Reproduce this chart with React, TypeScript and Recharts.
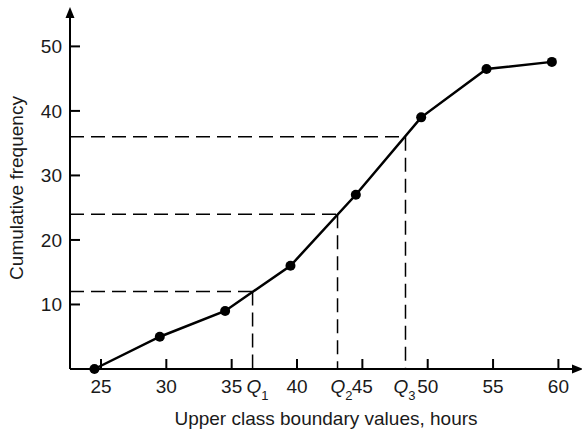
import React from 'react';
import { LineChart, Line, XAxis, YAxis, ReferenceLine, Label } from 'recharts';

const upperBoundaries = [24.5, 29.5, 34.5, 39.5, 44.5, 49.5, 54.5, 59.5];
const cumulativeFreq = [0, 5, 9, 16, 27, 39, 46.5, 47.6];
const xTickValues = [25, 30, 35, 40, 45, 50, 55, 60];
const yTickValues = [10, 20, 30, 40, 50];
const quartileNames = ['1', '2', '3'];
const quartileFreq = [12, 24, 36];
const quartileHours = [36.6, 43.1, 48.3];

const X_MIN = 22.63;
const X_MAX = 61.04;
const Y_MAX = 54.4;

const data = upperBoundaries.map((x, i) => ({ x, y: cumulativeFreq[i] }));
const allXTicks = [...xTickValues, ...quartileHours].sort((a, b) => a - b);

const FONT = '"Liberation Sans", Arial, Helvetica, sans-serif';
const INK = '#1a1a1a';

const XTick = (props: any) => {
  const { x, y, payload } = props;
  const v = payload.value;
  const qi = quartileHours.indexOf(v);
  if (qi >= 0) {
    const nudge = [-6, -7, -12][qi];
    return (
      <text x={x + nudge} y={y + 24} textAnchor="start" fontFamily={FONT} fontSize={19} fill={INK}>
        <tspan fontStyle="italic">Q</tspan>
        <tspan fontSize={13} dy={7}>{quartileNames[qi]}</tspan>
      </text>
    );
  }
  return (
    <g>
      <line x1={x} x2={x} y1={y} y2={y - 10} stroke="#000" strokeWidth={2} />
      <text x={x} y={y + 24} textAnchor="middle" fontFamily={FONT} fontSize={19} fill={INK}>
        {v}
      </text>
    </g>
  );
};

const YTick = (props: any) => {
  const { x, y, payload } = props;
  return (
    <g>
      <line x1={x} x2={x + 10} y1={y} y2={y} stroke="#000" strokeWidth={2} />
      <text x={x - 8} y={y + 6.8} textAnchor="end" fontFamily={FONT} fontSize={19} fill={INK}>
        {payload.value}
      </text>
    </g>
  );
};

export default function App() {
  return (
    <div style={{ position: 'absolute', left: 0, top: 0, width: 582, height: 433, background: '#fff' }}>
      <svg width={0} height={0} style={{ position: 'absolute' }}>
        <defs>
          <marker
            id="axisArrow"
            viewBox="0 -5 12 10"
            refX={0}
            refY={0}
            markerWidth={12}
            markerHeight={10}
            markerUnits="userSpaceOnUse"
            orient="auto-start-reverse"
          >
            <path d="M0,-4.5 L11,0 L0,4.5 Z" fill="#000" />
          </marker>
        </defs>
      </svg>
      <LineChart width={582} height={433} data={data} margin={{ top: 18, right: 10, left: 10, bottom: 0 }}>
        <XAxis
          dataKey="x"
          type="number"
          domain={[X_MIN, X_MAX]}
          ticks={allXTicks}
          interval={0}
          tick={<XTick />}
          tickLine={false}
          tickSize={0}
          tickMargin={0}
          height={64}
          axisLine={{ stroke: '#000', strokeWidth: 2, markerEnd: 'url(#axisArrow)' } as any}
        >
          <Label
            content={() => (
              <text x={326} y={425} textAnchor="middle" fontFamily={FONT} fontSize={19} fill={INK}>
                Upper class boundary values, hours
              </text>
            )}
          />
        </XAxis>
        <YAxis
          type="number"
          domain={[0, Y_MAX]}
          ticks={yTickValues}
          interval={0}
          tick={<YTick />}
          tickLine={false}
          tickSize={0}
          tickMargin={0}
          width={60}
          axisLine={{ stroke: '#000', strokeWidth: 2, markerStart: 'url(#axisArrow)' } as any}
        >
          <Label
            content={() => (
              <text
                x={23}
                y={188}
                transform="rotate(-90, 23, 188)"
                textAnchor="middle"
                fontFamily={FONT}
                fontSize={19}
                fill={INK}
              >
                Cumulative frequency
              </text>
            )}
          />
        </YAxis>
        {quartileHours.map((qx, i) => (
          <ReferenceLine
            key={'h' + i}
            segment={[
              { x: X_MIN, y: quartileFreq[i] },
              { x: qx, y: quartileFreq[i] },
            ]}
            stroke="#000"
            strokeWidth={1.5}
            strokeDasharray="14 7"
            ifOverflow="visible"
          />
        ))}
        {quartileHours.map((qx, i) => (
          <ReferenceLine
            key={'v' + i}
            segment={[
              { x: qx, y: quartileFreq[i] },
              { x: qx, y: 0 },
            ]}
            stroke="#000"
            strokeWidth={1.5}
            strokeDasharray="14 7"
            ifOverflow="visible"
          />
        ))}
        <Line
          dataKey="y"
          type="linear"
          stroke="#000"
          strokeWidth={2.5}
          dot={{ r: 5, fill: '#000', stroke: '#000', strokeWidth: 0 }}
          isAnimationActive={false}
        />
      </LineChart>
    </div>
  );
}
